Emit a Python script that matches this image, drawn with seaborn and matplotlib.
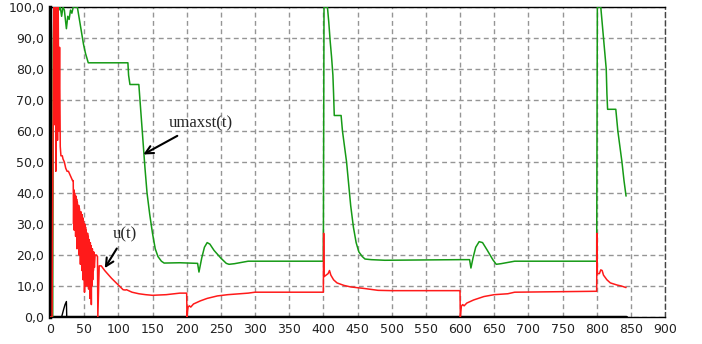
import matplotlib
matplotlib.use('Agg')
import matplotlib.pyplot as plt
import seaborn as sns
import pandas as pd
from matplotlib.ticker import FuncFormatter, MultipleLocator

# umaxst(t) - curva verde
t_umax = [0, 4, 4.7, 6, 7, 9, 11, 13, 15, 17, 19, 21, 22, 24, 26, 28, 30, 32, 34, 37, 40,
          43, 46, 49, 52, 56, 114, 115, 117, 130, 131, 133, 136, 139, 142, 146, 150, 154,
          158, 163, 167, 190, 216, 218, 222, 226, 230, 234, 240, 250, 258, 262, 270, 290,
          400, 401, 406, 408, 410, 412, 414, 415, 416, 426, 428, 431, 434, 437, 440, 444,
          448, 452, 457, 461, 470, 490, 600, 614, 616, 619, 623, 628, 633, 640, 648, 653,
          660, 680, 800, 801, 806, 808, 810, 812, 814, 815, 816, 828, 831, 834, 837, 840, 843]
umaxst = [0, 0, 87, 100, 100, 97, 100, 99, 100, 97, 100, 99, 97, 93, 97, 96, 99, 98, 100, 100, 100,
          96, 92, 88, 85, 82, 82, 78, 75, 75, 72, 66, 57, 48, 40, 33, 27, 22,
          19.5, 18, 17.4, 17.5, 17.3, 14.5, 19, 22.5, 24, 23.5, 21.5, 19, 17.3, 17, 17.2, 18,
          18, 100, 100, 95, 89, 84, 78, 72, 65, 65, 60, 55, 50, 43, 36, 29,
          24, 21, 19.5, 18.7, 18.5, 18.3, 18.5, 18.5, 15.8, 19, 22.5, 24.3, 24, 21.5, 18.5, 17,
          17.2, 18, 18, 100, 100, 95, 90, 85, 80, 72, 67, 67, 60, 55, 50, 44, 39]

# u(t) - curva roja, por tramos
t_u_ini = [0, 3, 4.5, 5.5, 6, 7, 8, 8.5, 9, 10, 11, 12, 13, 14, 15, 16, 17, 18, 19, 21,
           23, 25, 27, 29, 31, 33]
u_ini = [0, 0, 60, 100, 62, 100, 100, 47, 100, 87, 57, 100, 60, 87, 55, 52, 52, 52, 51, 50,
         48, 47, 47, 46, 45, 44]

# tramo oscilante
t_u_osc = [34, 34.5, 35, 35.5, 36, 36.5, 37, 37.5, 38, 38.5,
           39, 39.5, 40, 40.5, 41, 41.5, 42, 42.5, 43, 43.5,
           44, 44.5, 45, 45.5, 46, 46.5, 47, 47.5, 48, 48.5,
           49, 49.5, 50, 50.5, 51, 51.5, 52, 52.5, 53, 53.5,
           54, 54.5, 55, 55.5, 56, 56.5, 57, 57.5, 58, 58.5,
           59, 59.5, 60, 60.5, 61, 61.5, 62, 62.5, 63, 63.5,
           64]
u_osc = [44, 30, 41, 28, 40, 33, 39, 26, 39, 30,
         38, 22, 37, 28, 36, 25, 36, 20, 35, 27,
         34, 17, 34, 22, 33, 15, 33, 20, 32, 12,
         31, 18, 30, 8, 30, 14, 29, 10, 28, 16,
         27, 10, 27, 14, 26, 9, 25, 13, 24, 6,
         24, 11, 23, 4, 22, 10, 22, 12, 21, 15,
         21]

t_u_med = [64.5, 65, 66, 68, 69.5, 70, 72, 75, 80, 90, 100, 107, 110, 112, 120, 130, 140,
           150, 170, 190, 200, 200.5, 202, 204, 206, 210, 220, 230, 245, 260, 290, 300, 400]
u_med = [18, 16, 20, 20, 19.5, 0, 16.5, 16.5, 15, 12.5, 10.3, 8.8, 8.7, 8.8, 8, 7.5, 7.2,
         7, 7.2, 7.7, 7.7, 0, 3.2, 3.6, 3.2, 4.2, 5.2, 6, 6.8, 7.2, 7.7, 8, 8]

t_u_fin = [400.5, 401, 404, 407, 409, 411, 415, 420, 430, 440, 460, 480, 500, 600, 600.5,
           602, 604, 606, 610, 620, 635, 650, 670, 680, 800, 800.5, 801, 804, 806, 808,
           810, 815, 820, 830, 836, 843]
u_fin = [27, 13, 13.5, 14, 15, 13.5, 12, 11, 10.2, 9.7, 9.2, 8.6, 8.5, 8.5, 0,
         3.5, 4, 3.6, 4.5, 5.5, 6.6, 7.2, 7.5, 8, 8.3, 27, 14, 14, 15.2, 15,
         13.5, 12, 11, 10.3, 10, 9.5]

# serie negra: linea base en cero y pequeño pico al inicio
t_base = [0, 843]
base = [0, 0]
t_pico = [17, 20, 22, 24, 24.5]
pico = [0, 2.5, 4, 5, 0]

df_umax = pd.DataFrame({'t': t_umax, 'valor': umaxst})
df_u = pd.DataFrame({'t': t_u_ini + t_u_osc + t_u_med + t_u_fin,
                     'valor': u_ini + u_osc + u_med + u_fin})
df_base = pd.DataFrame({'t': t_base, 'valor': base})
df_pico = pd.DataFrame({'t': t_pico, 'valor': pico})

sns.set_style('white')
plt.rcParams['font.family'] = ['DejaVu Sans']

fig = plt.figure(figsize=(7.02, 3.44), dpi=100)
ax = fig.add_axes([50 / 702, 1 - 317 / 344, 615 / 702, 310 / 344])

sns.lineplot(data=df_base, x='t', y='valor', color='black', linewidth=2.5,
             estimator=None, sort=False, ax=ax, zorder=2)
sns.lineplot(data=df_pico, x='t', y='valor', color='black', linewidth=1,
             estimator=None, sort=False, ax=ax, zorder=2)
sns.lineplot(data=df_umax, x='t', y='valor', color='#169a16', linewidth=1.1,
             estimator=None, sort=False, ax=ax, zorder=3)
sns.lineplot(data=df_u, x='t', y='valor', color='#ff1a1a', linewidth=1.1,
             estimator=None, sort=False, ax=ax, zorder=4)

ax.set_xlim(0, 900)
ax.set_ylim(0, 100)
ax.xaxis.set_major_locator(MultipleLocator(50))
ax.yaxis.set_major_locator(MultipleLocator(10))
ax.yaxis.set_major_formatter(FuncFormatter(lambda v, p: f'{v:.1f}'.replace('.', ',')))
ax.set_xlabel('')
ax.set_ylabel('')
ax.tick_params(axis='both', length=0, labelsize=9, labelcolor='#222222', pad=4)

# cuadricula punteada
ax.grid(True, color='#959595', linestyle=(0, (3.5, 2.5)), linewidth=1)
ax.set_axisbelow(True)

for lado in ['top', 'bottom']:
    ax.spines[lado].set_color('black')
    ax.spines[lado].set_linewidth(1)
ax.spines['left'].set_color('black')
ax.spines['left'].set_linewidth(2.5)
ax.spines['right'].set_color('#444444')
ax.spines['right'].set_linestyle((0, (3.5, 2.5)))
ax.spines['right'].set_linewidth(1)

# etiquetas con flecha
flecha = dict(arrowstyle='->', color='black', lw=1.5, mutation_scale=14)
ax.annotate('umaxst(t)', xy=(133, 52), xytext=(220, 62.5), ha='center', va='center',
            fontsize=12, family='Liberation Serif', arrowprops=flecha)
ax.annotate('u(t)', xy=(78, 15), xytext=(110, 26.5), ha='center', va='center',
            fontsize=12, family='Liberation Serif', arrowprops=flecha)

fig.savefig('out.png', dpi=100)
